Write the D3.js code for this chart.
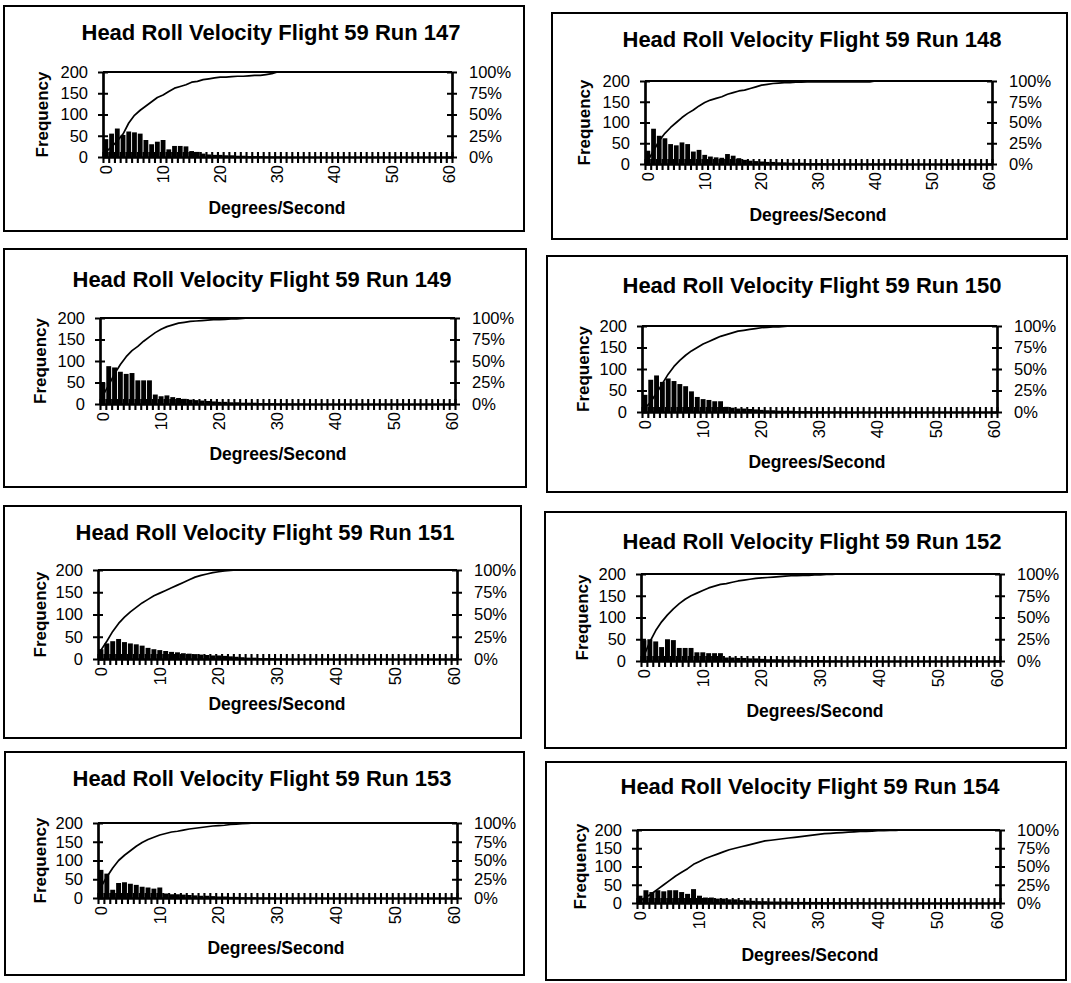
<!DOCTYPE html>
<html>
<head>
<meta charset="utf-8">
<script src="https://cdn.jsdelivr.net/npm/d3@7/dist/d3.min.js"></script>
<style>
  body { margin: 0; background: #fff; }
  svg { display: block; }
</style>
</head>
<body>
<svg id="chart" width="1071" height="983"></svg>
<script>
// ---------------- DATA ----------------
const categories = [0,1,2,3,4,5,6,7,8,9,10,11,12,13,14,15,16,17,18,19,20,21,22,23,24,25,26,27,28,29,30,
  31,32,33,34,35,36,37,38,39,40,41,42,43,44,45,46,47,48,49,50,51,52,53,54,55,56,57,58,59,60];
const xTickLabels = [0,10,20,30,40,50,60];
const freqTicks = [0,50,100,150,200];
const pctTicks = [0,25,50,75,100];
const runs = [147,148,149,150,151,152,153,154];
const titlePrefix = "Head Roll Velocity Flight 59 Run ";
const yTitle = "Frequency";
const xTitle = "Degrees/Second";

const freq147 = [42,55,67,52,60,58,55,40,30,36, 40,18,26,26,25,14,12,8,6,5, 5,4,4,3,3,2,2,2,1,1, 1,0,0,0,0,0,0,0,0,0, 0,0,0,0,0,0,0,0,0,0, 0,0,0,0,0,0,0,0,0,0, 0];
const cum147  = [6,12,19,27,40,49,55,60,65,70, 73,77,81,83,85,88,89,91,92,93, 94,94,94.5,95,95,95.5,96,96,97,98, 100,100,100,100,100,100,100,100,100,100, 100,100,100,100,100,100,100,100,100,100, 100,100,100,100,100,100,100,100,100,100, 100];

const freq148 = [32,85,68,62,48,45,52,48,30,34, 22,18,16,15,24,20,14,10,8,7, 6,5,5,4,4,3,3,3,2,2, 2,2,1,1,1,1,1,1,1,1, 1,1,1,1,0,0,0,0,0,0, 0,0,0,0,0,0,0,0,0,0, 0];
const cum148  = [4,16,28,37,44,50,56,61,65,70, 74,77,79,81,84,86,88,89,91,93, 95,96,97,97.5,98,98,98.5,98.5,99,99, 99,99,99,99,99,99,99,99,99,99, 100,100,100,100,100,100,100,100,100,100, 100,100,100,100,100,100,100,100,100,100, 100];

const freq149 = [50,88,85,75,70,72,55,55,55,22, 18,20,16,14,12,10,9,8,7,6, 5,5,4,4,3,3,3,2,2,2, 1,1,1,1,1,0,0,0,0,0, 0,0,0,0,0,0,0,0,0,0, 0,0,0,0,0,0,0,0,0,0, 0];
const cum149  = [10,22,35,46,55,62,67,73,78,83, 87,90,92,94,95,96,96.5,97,97.5,98, 98,98.5,99,99,99.5,100,100,100,100,100, 100,100,100,100,100,100,100,100,100,100, 100,100,100,100,100,100,100,100,100,100, 100,100,100,100,100,100,100,100,100,100, 100];

const freq150 = [40,75,85,70,78,72,65,60,48,35, 30,28,25,25,12,10,8,8,7,6, 5,4,4,3,3,3,2,2,2,1, 1,1,1,1,1,0,0,0,0,0, 0,0,0,0,0,0,0,0,0,0, 0,0,0,0,0,0,0,0,0,0, 0];
const cum150  = [4,12,22,33,44,53,60,66,71,75, 79,82,85,88,90,92,94,95,96,97, 98,98.5,99,99,99.5,100,100,100,100,100, 100,100,100,100,100,100,100,100,100,100, 100,100,100,100,100,100,100,100,100,100, 100,100,100,100,100,100,100,100,100,100, 100];

const freq151 = [22,35,40,45,38,35,33,30,25,22, 20,18,16,15,13,12,11,10,9,8, 8,7,6,5,4,3,3,2,2,2, 1,1,0,0,0,0,0,0,0,0, 0,0,0,0,0,0,0,0,0,0, 0,0,0,0,0,0,0,0,0,0, 0];
const cum151  = [10,20,31,40,47,53,58,63,67,71, 74,77,80,83,86,89,92,94,95.5,97, 98,99,99.5,100,100,100,100,100,100,100, 100,100,100,100,100,100,100,100,100,100, 100,100,100,100,100,100,100,100,100,100, 100,100,100,100,100,100,100,100,100,100, 100];

const freq152 = [48,50,45,32,50,48,30,30,30,20, 20,18,18,18,8,8,7,7,6,6, 5,4,4,4,3,3,3,2,2,2, 2,1,1,1,0,0,0,0,0,0, 0,0,0,0,0,0,0,0,0,0, 0,0,0,0,0,0,0,0,0,0, 0];
const cum152  = [6,22,35,45,53,60,66,71,75,78, 81,84,86,88,89,90.5,92,93,94,95, 95.5,96,96.5,97,97.5,98,98,98.5,98.5,99, 99,99.5,99.5,100,100,100,100,100,100,100, 100,100,100,100,100,100,100,100,100,100, 100,100,100,100,100,100,100,100,100,100, 100];

const freq153 = [75,65,22,40,42,38,35,30,28,25, 28,12,10,10,9,8,7,6,6,5, 4,4,3,3,2,2,2,1,1,1, 0,0,0,0,0,0,0,0,0,0, 0,0,0,0,0,0,0,0,0,0, 0,0,0,0,0,0,0,0,0,0, 0];
const cum153  = [15,28,40,50,57,63,69,74,78,81, 84,86,88,89,90.5,92,93,94,95,96, 96.5,97,98,98.5,99,99.5,100,100,100,100, 100,100,100,100,100,100,100,100,100,100, 100,100,100,100,100,100,100,100,100,100, 100,100,100,100,100,100,100,100,100,100, 100];

const freq154 = [20,35,30,35,32,35,35,30,25,38, 20,15,15,12,12,10,10,8,7,6, 5,5,4,4,4,4,3,3,3,3, 3,2,2,2,2,2,2,2,1,1, 1,1,1,1,0,0,0,0,0,0, 0,0,0,0,0,0,0,0,0,0, 0];
const cum154  = [3,8,13,19,25,31,37,42,47,53, 57,61,64,67,70,73,75,77,79,81, 83,85,86,87,88,89,90,91,92,93, 94,95,95.5,96,96.5,97,97.5,98,98,98.5, 99,99,99.5,99.5,100,100,100,100,100,100, 100,100,100,100,100,100,100,100,100,100, 100];

const freqSeries = [freq147, freq148, freq149, freq150, freq151, freq152, freq153, freq154];
const cumSeries  = [cum147, cum148, cum149, cum150, cum151, cum152, cum153, cum154];

// ---------------- LAYOUT (positions only) ----------------
const layouts = [
  {box:[4,6,524,231],    titleX:271, titleY:40,  plot:[103,452,72,157],   freqX:42,  xTitleX:277, xTitleY:214},
  {box:[552,13,1067,239],titleX:812, titleY:47,  plot:[645,992,81,164],   freqX:584, xTitleX:818, xTitleY:221},
  {box:[4,249,526,487],  titleX:262, titleY:287, plot:[100,455,318,404],  freqX:40,  xTitleX:278, xTitleY:460},
  {box:[547,256,1067,492],titleX:812, titleY:293, plot:[642,997,326,412], freqX:583, xTitleX:817, xTitleY:468},
  {box:[4,506,521,738],  titleX:265, titleY:540, plot:[98,457,570,659],   freqX:40,  xTitleX:277, xTitleY:710},
  {box:[545,512,1066,748],titleX:812, titleY:549, plot:[641,1000,574,661],freqX:582, xTitleX:815, xTitleY:717},
  {box:[5,752,524,975],  titleX:262, titleY:786, plot:[98,457,823,898],   freqX:40,  xTitleX:276, xTitleY:954},
  {box:[546,762,1066,980],titleX:810, titleY:794, plot:[637,1000,830,903],freqX:580, xTitleX:810, xTitleY:961}
];

const FONT = "'Liberation Sans', Arial, Helvetica, sans-serif";
const TICK_FS = 16.5;
const svg = d3.select("#chart");
svg.append("rect").attr("width",1071).attr("height",983).attr("fill","#fff");

function styleAxis(sel, tickW) {
  sel.attr("font-family", FONT).attr("font-size", TICK_FS);
  sel.selectAll("path.domain").attr("stroke","#000").attr("stroke-width",2.2);
  sel.selectAll(".tick line").attr("stroke","#000").attr("stroke-width",tickW);
  sel.selectAll(".tick text").attr("fill","#000");
}

function drawPanel(L, run, freq, cum) {
  const g = svg.append("g");
  const [bx0,by0,bx1,by1] = L.box;
  g.append("rect").attr("x",bx0).attr("y",by0).attr("width",bx1-bx0).attr("height",by1-by0)
    .attr("fill","none").attr("stroke","#000").attr("stroke-width",2);

  g.append("text").attr("x",L.titleX).attr("y",L.titleY).attr("text-anchor","middle")
    .attr("font-family",FONT).attr("font-size",22).attr("font-weight","bold").text(titlePrefix + run);

  const [x0,x1,y0,y1] = L.plot;
  const xb = d3.scaleBand().domain(categories).range([x0,x1]).paddingInner(0.16).paddingOuter(0.08);
  const xl = d3.scaleLinear().domain([-0.5, 60.5]).range([x0,x1]);
  const yL = d3.scaleLinear().domain([0,200]).range([y1,y0]);
  const yR = d3.scaleLinear().domain([0,100]).range([y1,y0]);
  const cx = c => xb(c) + xb.bandwidth()/2;

  // bars
  g.append("g").selectAll("rect").data(freq).join("rect")
    .attr("x",(d,i)=>xb(categories[i])).attr("width",xb.bandwidth())
    .attr("y",d=>yL(d)).attr("height",d=>yL(0)-yL(d)).attr("fill","#000");

  // cumulative line
  const line = d3.line().x((d,i)=>cx(categories[i])).y(d=>yR(d));
  g.append("path").datum(cum).attr("d",line).attr("fill","none")
    .attr("stroke","#000").attr("stroke-width",1.7).attr("stroke-linejoin","round");

  // plot area top border
  g.append("line").attr("x1",x0).attr("x2",x1).attr("y1",y0).attr("y2",y0)
    .attr("stroke","#000").attr("stroke-width",2.2);

  // left axis (cross ticks)
  const la = g.append("g").attr("transform",`translate(${x0},0)`)
    .call(d3.axisLeft(yL).tickValues(freqTicks).tickSize(5).tickSizeOuter(0).tickPadding(10));
  styleAxis(la, 2);
  const la2 = g.append("g").attr("transform",`translate(${x0},0)`)
    .call(d3.axisRight(yL).tickValues(freqTicks).tickSize(5).tickSizeOuter(0).tickFormat(""));
  styleAxis(la2, 2);

  // right axis (cross ticks)
  const ra = g.append("g").attr("transform",`translate(${x1},0)`)
    .call(d3.axisRight(yR).tickValues(pctTicks).tickSize(5).tickSizeOuter(0).tickPadding(12).tickFormat(d=>d+"%"));
  styleAxis(ra, 2);
  const ra2 = g.append("g").attr("transform",`translate(${x1},0)`)
    .call(d3.axisLeft(yR).tickValues(pctTicks).tickSize(5).tickSizeOuter(0).tickFormat(""));
  styleAxis(ra2, 2);

  // bottom axis: ticks at category boundaries, crossing the axis
  const bounds = categories.map(c=>c-0.5).concat([categories[categories.length-1]+0.5]);
  const ba = g.append("g").attr("transform",`translate(0,${y1})`)
    .call(d3.axisBottom(xl).tickValues(bounds).tickSize(6).tickSizeOuter(0).tickFormat(""));
  styleAxis(ba, 2.1);
  const ba2 = g.append("g").attr("transform",`translate(0,${y1})`)
    .call(d3.axisTop(xl).tickValues(bounds).tickSize(5).tickSizeOuter(0).tickFormat(""));
  styleAxis(ba2, 2.1);

  // rotated x tick labels
  g.append("g").selectAll("text").data(xTickLabels).join("text")
    .attr("transform", d=>`translate(${cx(d)},${y1+8}) rotate(-90)`)
    .attr("text-anchor","end").attr("dy","0.35em")
    .attr("font-family",FONT).attr("font-size",TICK_FS).text(d=>d);

  // axis titles
  g.append("text").attr("transform",`translate(${L.freqX},${(y0+y1)/2}) rotate(-90)`)
    .attr("text-anchor","middle").attr("dy","0.35em")
    .attr("font-family",FONT).attr("font-size",17).attr("font-weight","bold").text(yTitle);
  g.append("text").attr("x",L.xTitleX).attr("y",L.xTitleY).attr("text-anchor","middle")
    .attr("font-family",FONT).attr("font-size",17.5).attr("font-weight","bold").text(xTitle);
}

runs.forEach((r,i)=>drawPanel(layouts[i], r, freqSeries[i], cumSeries[i]));
</script>
</body>
</html>
